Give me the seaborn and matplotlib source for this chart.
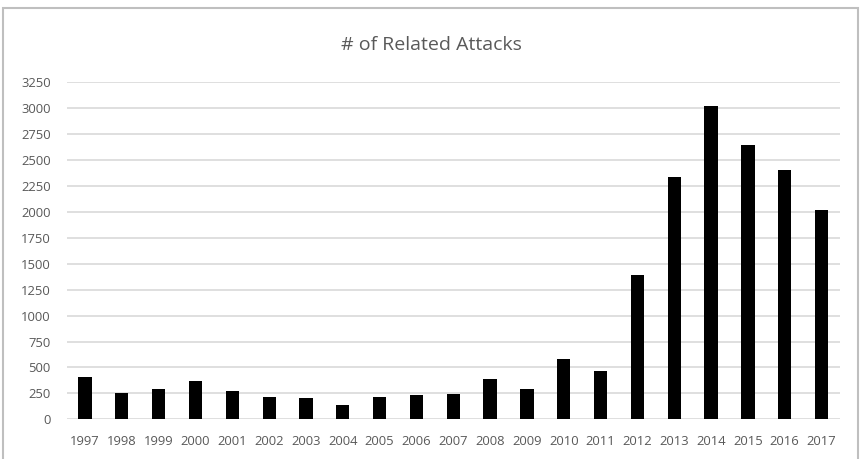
import matplotlib
matplotlib.use("Agg")
import matplotlib.pyplot as plt
from matplotlib.patches import Rectangle
import seaborn as sns
import pandas as pd

years = [str(y) for y in range(1997, 2018)]
attacks = [410, 257, 289, 369, 273, 218, 203, 142, 219, 239, 248,
           384, 290, 577, 470, 1395, 2336, 3019, 2642, 2400, 2020]
y_ticks = list(range(0, 3251, 250))

df = pd.DataFrame({"year": years, "attacks": attacks})

sns.set_theme(style="white")
plt.rcParams["font.family"] = ["Open Sans", "DejaVu Sans"]

text_gray = "#595959"
grid_gray = "#d9d9d9"

fig = plt.figure(figsize=(8.63, 4.59), dpi=100)
ax = fig.add_axes([0.0772, 0.0865, 0.8961, 0.7342])

sns.barplot(data=df, x="year", y="attacks", color="black", width=0.36,
            saturation=1, linewidth=0, ax=ax, zorder=3)

ax.set_ylim(0, 3250)
ax.set_yticks(y_ticks)
ax.set_xlim(-0.5, len(years) - 0.5)
ax.set_xlabel("")
ax.set_ylabel("")
for s in ax.spines.values():
    s.set_visible(False)
ax.yaxis.grid(True, color=grid_gray, linewidth=1.2, zorder=0)
ax.set_axisbelow(True)
ax.tick_params(axis="both", length=0, labelsize=9.4, labelcolor=text_gray)
ax.tick_params(axis="y", pad=11.5)
ax.tick_params(axis="x", pad=11)

fig.text(0.5, 1 - 45 / 459, "# of Related Attacks", ha="center", va="center",
         fontsize=14, color=text_gray)

# light frame around the chart area
fig.patches.append(Rectangle((3 / 863, -0.05), 855 / 863, 1.05 - 8 / 459,
                             transform=fig.transFigure, fill=False,
                             edgecolor="#bfbfbf", linewidth=1.5))

fig.savefig("out.png", dpi=100)
